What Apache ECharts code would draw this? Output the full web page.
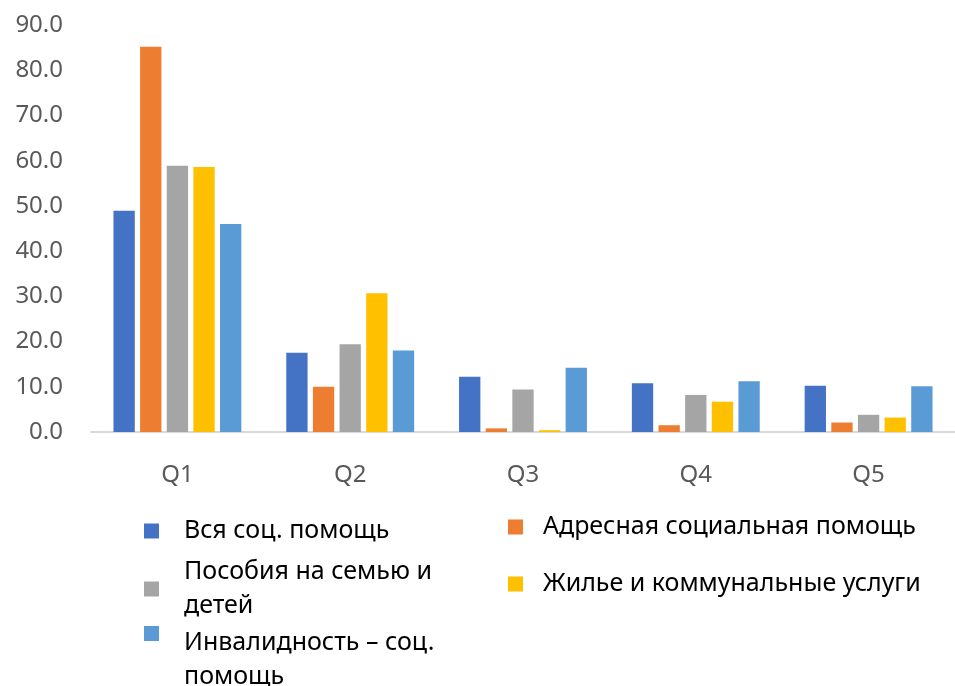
<!DOCTYPE html>
<html>
<head>
<meta charset="utf-8">
<script src="https://cdn.jsdelivr.net/npm/echarts@6/dist/echarts.min.js"></script>
<style>
  html, body { margin: 0; padding: 0; background: #fff; }
  #chart { width: 955px; height: 686px; }
</style>
</head>
<body>
<div id="chart"></div>
<script>
const categories = ['Q1', 'Q2', 'Q3', 'Q4', 'Q5'];

const seriesNames = [
  'Вся соц. помощь',
  'Адресная социальная помощь',
  'Пособия на семью и детей',
  'Жилье и коммунальные услуги',
  'Инвалидность – соц. помощь'
];

const allSocial = [48.9, 17.5, 12.2, 10.8, 10.2];
const targeted = [85.2, 10.0, 0.8, 1.5, 2.1];
const familyBenefits = [58.9, 19.4, 9.4, 8.2, 3.8];
const housing = [58.6, 30.7, 0.4, 6.7, 3.2];
const disability = [46.0, 18.0, 14.2, 11.2, 10.1];

const seriesValues = [allSocial, targeted, familyBenefits, housing, disability];
const colors = ['#4472C4', '#ED7D31', '#A5A5A5', '#FFC000', '#5B9BD5'];

// legend text as wrapped in the original
const legendLabels = {
  'Вся соц. помощь': 'Вся соц. помощь',
  'Адресная социальная помощь': 'Адресная социальная помощь',
  'Пособия на семью и детей': 'Пособия на семью и\nдетей',
  'Жилье и коммунальные услуги': 'Жилье и коммунальные услуги',
  'Инвалидность – соц. помощь': 'Инвалидность – соц.\nпомощь'
};

// square at the top of a taller box, so the marker lines up with the first text line
const topSquare = 'path://M0,0H15V15H0Z M0,68L0.01,68Z';

// where each legend entry sits
const legendPos = [
  { left: 144, top: 514, pad: 20, icon: 'rect', h: 15 },
  { left: 508, top: 510, pad: 15, icon: 'rect', h: 15 },
  { left: 144, top: 555, pad: 20, icon: 'rect', h: 15 },
  { left: 508, top: 567, pad: 15, icon: 'rect', h: 15 },
  { left: 144, top: 626, pad: 20, icon: topSquare, h: 68 }
];

const font = '"Noto Sans", "DejaVu Sans", sans-serif';

const chart = echarts.init(document.getElementById('chart'));

const legends = seriesNames.map((name, i) => ({
  data: [name],
  left: legendPos[i].left,
  top: legendPos[i].top,
  padding: 0,
  icon: legendPos[i].icon,
  itemWidth: 15,
  itemHeight: legendPos[i].h,
  selectedMode: false,
  formatter: (n) => legendLabels[n],
  textStyle: {
    fontFamily: font,
    fontSize: 25,
    lineHeight: 34,
    color: '#000',
    padding: [0, 0, 0, legendPos[i].pad]
  }
}));

const option = {
  animation: false,
  color: colors,
  grid: {
    left: 91,
    right: -6,
    top: 25,
    bottom: 254,
    containLabel: false
  },
  legend: legends,
  xAxis: {
    type: 'category',
    data: categories,
    axisTick: { show: false },
    axisLine: { lineStyle: { color: '#d9d9d9', width: 2 } },
    axisLabel: {
      fontFamily: font,
      fontSize: 24,
      color: '#595959',
      margin: 31
    }
  },
  yAxis: {
    type: 'value',
    min: 0,
    max: 90,
    interval: 10,
    splitLine: { show: false },
    axisLine: { show: false },
    axisTick: { show: false },
    axisLabel: {
      fontFamily: font,
      fontSize: 24,
      color: '#595959',
      margin: 28,
      formatter: (v) => v.toFixed(1)
    }
  },
  series: seriesNames.map((name, i) => ({
    name: name,
    type: 'bar',
    data: seriesValues[i],
    barGap: '25%',
    barCategoryGap: '26%'
  }))
};

chart.setOption(option);
</script>
</body>
</html>
